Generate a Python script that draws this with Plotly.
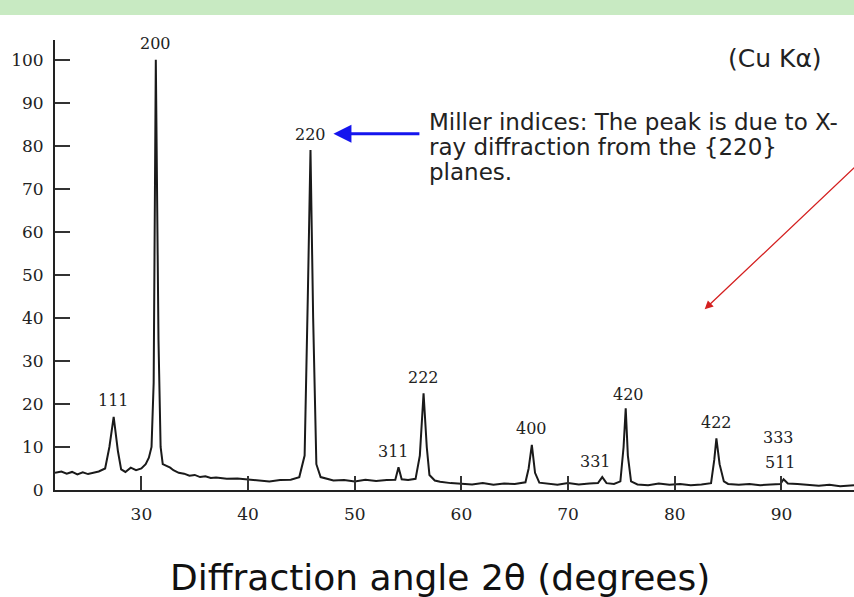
import plotly.graph_objects as go

# Diffraction pattern: angle 2θ (degrees) vs intensity
two_theta = [21.9, 22.5, 23.0, 23.5, 24.0, 24.5, 25.0, 25.5, 26.0, 26.6, 27.0, 27.4, 27.8, 28.1,
             28.5, 29.0, 29.5, 30.0, 30.4, 30.7, 30.95, 31.15, 31.35, 31.6, 31.8, 32.0, 32.3,
             32.7, 33.0, 33.5, 34.0, 34.5, 35.0, 35.5, 36.0, 36.5, 37.0, 38.0, 39.0, 40.0,
             41.0, 42.0, 43.0, 44.0, 44.8, 45.3, 45.6, 45.85, 46.1, 46.4, 46.8, 47.5, 48.0,
             49.0, 50.0, 51.0, 52.0, 53.0, 53.8, 54.1, 54.4, 55.0, 55.7, 56.1, 56.45, 56.75,
             57.0, 57.5, 58.0, 59.0, 60.0, 61.0, 62.0, 63.0, 64.0, 65.0, 66.0, 66.3, 66.6,
             66.9, 67.3, 68.0, 69.0, 70.0, 71.0, 72.0, 72.8, 73.2, 73.6, 74.3, 74.9, 75.2,
             75.4, 75.6, 75.9, 76.5, 77.5, 78.5, 79.5, 80.5, 81.5, 82.5, 83.4, 83.7, 83.9,
             84.2, 84.6, 85.0, 86.0, 87.0, 88.0, 89.0, 89.9, 90.2, 90.6, 91.5, 92.5, 93.5,
             94.5, 95.5, 96.8]
intensity = [4.0, 4.3, 3.8, 4.2, 3.6, 4.1, 3.7, 4.0, 4.3, 5.0, 10.0, 17.0, 9.0, 4.8,
             4.2, 5.2, 4.6, 5.0, 6.0, 7.5, 10.0, 25.0, 100.0, 35.0, 10.0, 6.0, 5.6,
             5.2, 4.6, 4.0, 3.8, 3.3, 3.5, 3.0, 3.2, 2.8, 2.9, 2.6, 2.7, 2.5,
             2.2, 2.0, 2.3, 2.4, 3.0, 8.0, 45.0, 79.0, 40.0, 6.0, 3.0, 2.5, 2.2,
             2.3, 2.0, 2.4, 2.1, 2.3, 2.4, 5.3, 2.5, 2.3, 2.6, 8.0, 22.5, 10.0,
             3.5, 2.2, 1.9, 1.6, 1.5, 1.3, 1.6, 1.2, 1.5, 1.4, 1.8, 5.0, 10.5,
             4.0, 1.7, 1.5, 1.2, 1.6, 1.3, 1.5, 1.6, 3.0, 1.6, 1.4, 2.0, 10.0,
             19.0, 8.0, 2.0, 1.3, 1.1, 1.5, 1.2, 1.4, 1.1, 1.3, 1.6, 7.0, 12.0,
             6.0, 2.0, 1.4, 1.2, 1.4, 1.1, 1.3, 1.4, 2.5, 1.5, 1.4, 1.2, 1.0,
             1.2, 0.9, 1.1]

# Peak (Miller index) labels
peak_hkl = ["111", "200", "220", "311", "222", "400", "331", "420", "422", "333", "511"]
peak_angle = [27.4, 31.35, 45.85, 53.9, 56.45, 66.6, 72.7, 75.45, 83.9, 89.8, 89.95]
peak_height = [17.0, 100.0, 79.0, 5.3, 22.5, 10.5, 3.0, 19.0, 12.0, 2.5, 2.5]

x_ticks = [30, 40, 50, 60, 70, 80, 90]
y_ticks = [0, 10, 20, 30, 40, 50, 60, 70, 80, 90, 100]

note_lines = ["Miller indices: The peak is due to X-",
              "ray diffraction from the {220}",
              "planes."]

fig = go.Figure()
fig.add_trace(go.Scatter(x=two_theta, y=intensity, mode="lines",
                         line=dict(color="#1a1a1a", width=2), hoverinfo="x+y"))

serif = "DejaVu Serif"
label_shift = [16, 16, 16, 16, 16, 16, 16, 14, 16, 42, 17]
label_xshift = [0, 0, 0, -3, 0, 0, -1, 2, 0, -1, 0]
for hkl, a, h, ys, xs in zip(peak_hkl, peak_angle, peak_height, label_shift, label_xshift):
    fig.add_annotation(x=a, y=h, text=hkl, showarrow=False, yshift=ys, xshift=xs,
                       font=dict(family=serif, size=16, color="#222"))

# Blue arrow pointing to the 220 label
fig.add_annotation(x=48.0, y=82.8, ax=56.2, ay=82.8, axref="x", ayref="y",
                   xref="x", yref="y", showarrow=True, arrowhead=2, arrowsize=1.2,
                   arrowwidth=3, arrowcolor="#1515ee", text="")
for i, line in enumerate(note_lines):
    fig.add_annotation(x=56.75, y=85.6, xanchor="left", yanchor="middle", align="left",
                       yshift=-25 * i, showarrow=False, text=line,
                       font=dict(family="DejaVu Sans", size=23, color="#222"))
# Red arrow
fig.add_annotation(x=82.8, y=42.0, ax=97.5, ay=76.5, axref="x", ayref="y",
                   xref="x", yref="y", showarrow=True, arrowhead=2, arrowsize=1.3,
                   arrowwidth=1.3, arrowcolor="#d42020", text="")
fig.add_annotation(x=89.4, y=100.4, showarrow=False, text="(Cu K\u03b1)",
                   font=dict(family="DejaVu Sans", size=25, color="#222"))
# axis title
fig.add_annotation(xref="paper", yref="paper", x=0.482, y=-0.195, xanchor="center",
                   yanchor="middle", showarrow=False,
                   text="Diffraction angle 2\u03b8 (degrees)",
                   font=dict(family="DejaVu Sans", size=36, color="#111"))

# light green band at the top of the slide
fig.add_shape(type="rect", xref="paper", yref="paper", x0=-0.07, x1=1.0,
              y0=1.0556, y1=1.09, fillcolor="#c8eac2", line=dict(width=0), layer="below")

fig.update_layout(
    width=854, height=597,
    margin=dict(l=55, r=0, t=40, b=107),
    paper_bgcolor="white", plot_bgcolor="white",
    showlegend=False,
    xaxis=dict(range=[21.9, 96.8], tickvals=x_ticks, ticks="inside", ticklen=14,
               tickwidth=1.5, tickcolor="#333", showgrid=False, zeroline=False,
               showline=True, linecolor="#222", linewidth=2, ticklabelstandoff=8,
               tickfont=dict(family=serif, size=17, color="#222")),
    yaxis=dict(range=[0, 104.6], tickvals=y_ticks, ticks="inside", ticklen=15,
               tickwidth=2, tickcolor="#333", showgrid=False, zeroline=False,
               showline=True, linecolor="#222", linewidth=2, ticklabelstandoff=6,
               tickfont=dict(family=serif, size=17, color="#222")),
)

fig.write_html("out.html")
